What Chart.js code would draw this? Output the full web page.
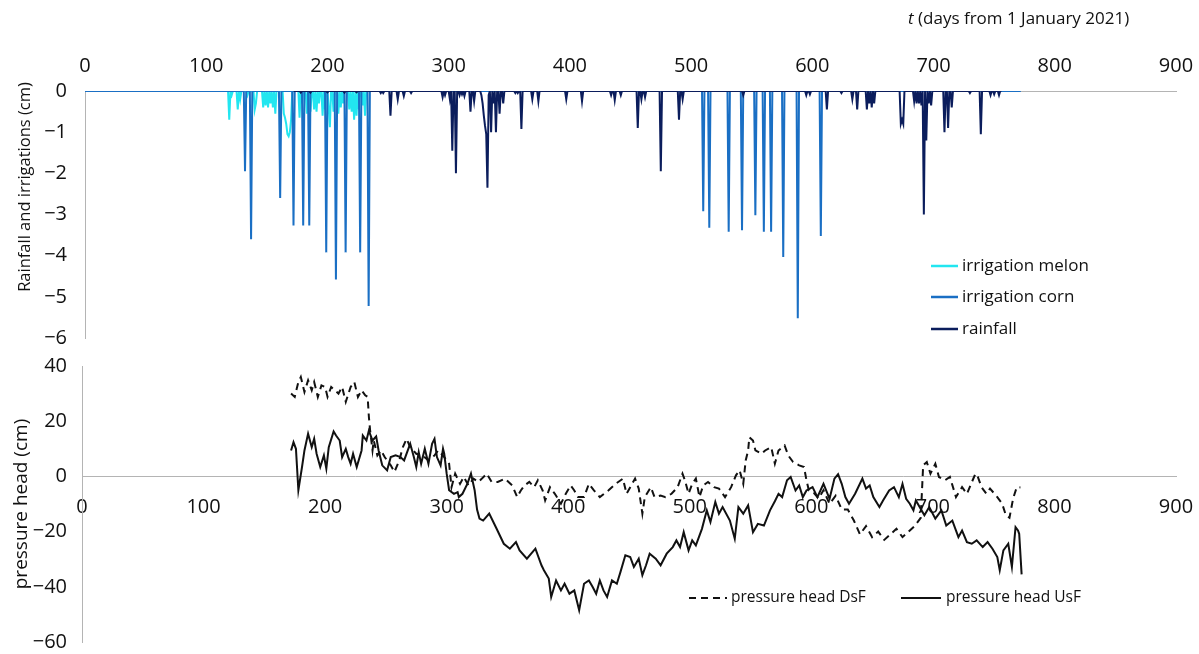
<!DOCTYPE html>
<html>
<head>
<meta charset="utf-8">
<script src="https://cdn.jsdelivr.net/npm/chart.js@4.4.1/dist/chart.umd.min.js"></script>
<style>
  html, body { margin: 0; padding: 0; background: #fff; }
  #wrap { position: relative; width: 1199px; height: 654px; }
  canvas { position: absolute; left: 0; }
  #topChart { top: 0; }
  #bottomChart { top: 350px; }
</style>
</head>
<body>
<div id="wrap">
  <canvas id="topChart" width="1199" height="350"></canvas>
  <canvas id="bottomChart" width="1199" height="304"></canvas>
</div>
<script>
// ===== data =====
// tick values
const dayTicks = [0, 100, 200, 300, 400, 500, 600, 700, 800, 900];
const rainTicks = [0, -1, -2, -3, -4, -5, -6];
const headTicks = [40, 20, 0, -20, -40, -60];

// irrigation melon (cm per day, plotted negative)
const melonDays = [119, 121, 126, 128, 134, 140, 141, 147, 149, 151,
  153, 155, 157, 164, 165, 166, 167, 168, 169, 170,
  177, 179, 183, 186, 189, 191, 193, 196, 198, 201,
  202, 205, 209, 211, 213, 218, 220, 222, 224, 226,
  229, 231];
const melonVals = [-0.7, -0.1, -0.45, -0.2, -0.1, -0.45, -0.3, -0.4, -0.35, -0.4,
  -0.3, -0.4, -0.55, -0.55, -0.65, -0.8, -1.05, -1.1, -1.0, -0.7,
  -0.65, -0.3, -0.55, -0.5, -0.45, -0.5, -0.3, -0.6, -0.45, -0.4,
  -0.88, -0.5, -0.55, -0.4, -0.3, -0.45, -0.5, -0.7, -0.6, -0.45,
  -0.35, -0.6];

// irrigation corn
const cornDays = [132, 137, 161, 172, 180, 185, 199, 207, 215, 227, 234,
  510, 515, 531, 542, 553, 560, 566, 576, 588, 607];
const cornVals = [-1.95, -3.6, -2.6, -3.27, -3.27, -3.27, -3.92, -4.58, -3.92, -3.92, -5.22,
  -2.92, -3.32, -3.42, -3.38, -3.02, -3.42, -3.42, -4.03, -5.52, -3.52];

// rainfall
const rainDays = [178, 186, 200, 214, 224,
  244, 246, 252, 258, 263, 269,
  295, 297, 301, 303, 306, 309, 311, 313,
  318, 321, 327, 328, 329, 330, 331, 332, 333,
  335, 337, 339, 342, 345,
  355, 357, 360, 369, 374,
  397, 410,
  434, 437, 442, 456, 459, 462, 475,
  490, 493, 543,
  595, 598, 612, 624, 633, 637,
  645, 647, 649, 651,
  673, 674, 675,
  684, 686, 688, 690, 692, 694, 696, 698,
  709, 712, 715, 730, 739,
  747, 750, 754];
const rainVals = [-0.04, -0.04, -0.03, -0.04, -0.03,
  -0.05, -0.05, -0.6, -0.2, -0.12, -0.05,
  -0.15, -0.1, -0.2, -1.45, -2.0, -0.1, -0.08, -0.12,
  -0.5, -0.25, -0.1, -0.3, -0.6, -0.85, -1.05, -2.35, -0.1,
  -1.0, -0.3, -1.0, -0.55, -0.3,
  -0.05, -0.05, -0.92, -0.2, -0.25,
  -0.2, -0.25,
  -0.1, -0.22, -0.1, -0.9, -0.2, -0.15, -1.95,
  -0.7, -0.2, -0.1,
  -0.1, -0.08, -0.45, -0.05, -0.2, -0.45,
  -0.45, -0.3, -0.4, -0.3,
  -0.8, -0.7, -0.8,
  -0.25, -0.3, -0.3, -0.35, -3.0, -1.2, -0.3, -0.35,
  -1.0, -0.9, -0.4, -0.05, -1.05,
  -0.1, -0.08, -0.1];

// pressure head UsF (solid)
const usfDays = [172, 174, 176, 178, 181, 183, 186, 189, 191, 193, 196, 199, 201, 203, 207, 209, 212, 214, 217, 219,
  221, 223, 226, 230, 231, 234, 236, 239, 242, 244, 247, 251, 254, 258, 262, 265, 268, 270, 273, 275,
  277, 279, 282, 285, 288, 290, 292, 295, 297, 298, 300, 302, 306, 309, 310, 313, 317, 320, 323, 325,
  327, 330, 335, 341, 347, 352, 357, 360, 366, 373, 378, 380, 384, 386, 390, 394, 397, 401, 405, 409,
  413, 417, 420, 423, 426, 429, 432, 436, 440, 443, 447, 451, 454, 458, 461, 464, 467, 472, 476, 481,
  486, 489, 492, 495, 499, 502, 505, 510, 514, 517, 521, 524, 527, 533, 537, 540, 544, 548, 552, 556,
  561, 566, 570, 573, 576, 580, 583, 587, 590, 593, 596, 601, 605, 610, 615, 619, 622, 625, 628, 631,
  636, 642, 645, 648, 651, 656, 659, 664, 668, 672, 675, 678, 681, 684, 686, 693, 697, 702, 707, 711,
  716, 721, 724, 728, 732, 736, 741, 745, 749, 753, 755, 758, 762, 765, 768, 770, 771, 773];
const usfVals = [9.4, 12.4, 10, -5, 3.4, 9.4, 15.5, 10.6, 13.6, 8.2, 3.4, 7.6, 2.8, 10.6, 16.3, 14.8, 13, 7, 10, 7,
  4.6, 8.2, 3.4, 9.4, 14.8, 13, 16.6, 13, 14.5, 9.4, 4, 2.2, 7, 7.6, 7, 5.8, 9.4, 11.8, 7, 3.4,
  8.8, 4.6, 10, 4.6, 11.8, 13.6, 7, 4, 10, 8.2, 1, -5, -6.3, -5.7, -7.5, -6.3, -2.7, 1, -5, -12,
  -15.3, -16, -13.5, -18.9, -24.4, -26.2, -23.8, -26.8, -29.8, -26.2, -32.2, -34, -37, -43.7, -37.7, -41.3, -38.9, -42.5, -41.3, -48.5,
  -38.9, -37.7, -40, -42.5, -37.7, -41.3, -43.7, -37.7, -38.9, -34.6, -28.6, -29.2, -32.8, -29.8, -35.8, -32.2, -28, -29.8, -32.2, -28,
  -25.6, -23.2, -25.6, -20.2, -26.8, -23.2, -25, -19, -12.3, -16.5, -9.3, -13.5, -11.1, -16, -22.6, -11.1, -13.5, -10.5, -20.2, -17.2,
  -17.8, -12.3, -9, -6.3, -7.5, -1.4, -0.2, -5.1, -3.3, -7.5, -5.1, -3.9, -7.5, -2.7, -8.1, -0.8, 0.8, -2.7, -7.5, -9.9,
  -6.3, -0.8, -4.4, -3.3, -7.5, -11.1, -8.7, -5.1, -3.9, -7.5, -2.7, -8.1, -9.9, -12.3, -8.7, -14.1, -11.1, -15.3, -12.3, -17.8,
  -16, -22, -19.6, -23.8, -24.4, -23.2, -25.6, -23.8, -26.2, -29.2, -34, -26.8, -24.4, -32.8, -18.4, -19.6, -20.8, -35.5];

// pressure head DsF (dashed)
const dsfDays = [172, 175, 178, 180, 183, 186, 189, 191, 194, 197, 200, 202, 205, 208, 211, 214, 217, 221, 224, 227,
  230, 233, 235, 236, 237, 239, 240, 243, 246, 249, 254, 257, 261, 264, 267, 270, 275, 280, 285, 290,
  293, 298, 302, 304, 307, 311, 314, 318, 322, 326, 329, 333, 337, 342, 348, 354, 358, 361, 364, 368,
  372, 375, 379, 381, 385, 389, 394, 398, 402, 405, 408, 413, 417, 421, 426, 433, 439, 445, 448, 455,
  458, 461, 463, 468, 471, 476, 480, 485, 490, 494, 496, 499, 502, 505, 508, 511, 515, 520, 524, 529,
  534, 538, 541, 544, 546, 548, 549, 552, 554, 559, 562, 567, 570, 573, 578, 581, 585, 590, 594, 596,
  598, 602, 606, 610, 615, 620, 625, 630, 635, 640, 645, 650, 655, 660, 665, 670, 675, 680, 685, 690,
  692, 695, 698, 702, 705, 710, 714, 719, 724, 728, 735, 737, 740, 744, 747, 753, 757, 760, 763, 766,
  769, 772];
const dsfVals = [30, 28.8, 34.2, 36, 30.6, 34.8, 31.2, 34.2, 28.8, 33, 32.4, 28.8, 32.4, 31.2, 30, 32.4, 27, 32.4, 34.2, 28.8,
  31.2, 29.4, 28.8, 21.6, 16.8, 9.4, 13, 7.6, 9.4, 7, 4, 1.6, 5.8, 10.6, 13.6, 10.6, 8.2, 7.6, 5.8, 7.6,
  9.4, 7, 4.6, -3.9, 1, -2.7, -0.2, -3.3, -0.8, -2, -0.8, 1, -2, -2, -0.8, -3.3, -7.5, -5.1, -3.3, -2,
  -3.9, -1.4, -5.1, -8.7, -3.9, -6.3, -9.9, -6.3, -3.3, -5.1, -7.5, -7.5, -2.7, -5, -7.5, -5.1, -2.7, -0.8, -6.3, -0.8,
  -4.4, -13.5, -7.5, -3.9, -7.5, -6.9, -7.5, -6.3, -3.9, 1, -1.4, -6.3, -2.7, -0.8, -7.5, -3.3, -2, -3.9, -4.4, -7.5,
  -3.9, 0.4, 2.2, -2.7, 5.8, 9.4, 14.2, 13, 9.4, 8.2, 9.4, 10.6, 4.6, 9.4, 11.2, 7.6, 5.2, 4, 3.4, -1.4,
  -5.1, -6, -8, -5, -10, -7, -12, -12, -16, -21, -18, -22, -20, -23, -21, -19, -22, -20, -18, -15,
  4, 5.2, 1, 4.6, -0.2, -1.4, -0.2, -7.5, -3.9, -6.3, 1, -0.2, -3.9, -6.3, -4.4, -7.5, -9.9, -14, -15, -8,
  -3.9, -4];

// ===== styling =====
Chart.defaults.font.family = "'Open Sans', sans-serif";
Chart.defaults.color = '#111';
const AXIS_GRAY = '#b4b4b4';
const MELON = '#22e6f0';
const CORN = '#1a6fc4';
const RAIN = '#0b1d5c';

// one value per day, 0 on days without an event
function daily(start, end, days, vals) {
  const pts = [];
  for (let d = start; d <= end; d++) {
    const i = days.indexOf(d);
    pts.push({ x: d, y: i >= 0 ? vals[i] : 0 });
  }
  return pts;
}
function pairs(days, vals) {
  return days.map((d, i) => ({ x: d, y: vals[i] }));
}
function minusLabel(v) {
  return v < 0 ? '\u2212' + Math.abs(v) : String(v);
}
function fixedTicks(list) {
  return (scale) => { scale.ticks = list.map(v => ({ value: v })); };
}

// text drawn inside the top panel: axis titles + legend
const topTexts = {
  id: 'topTexts',
  afterDraw(chart) {
    const ctx = chart.ctx;
    ctx.save();
    ctx.fillStyle = '#111';
    ctx.textBaseline = 'middle';
    ctx.textAlign = 'left';

    ctx.font = "italic 17px 'Open Sans'";
    ctx.fillText('t', 908, 19);
    const tw = ctx.measureText('t').width;
    ctx.font = "17px 'Open Sans'";
    ctx.fillText(' (days from 1 January 2021)', 908 + tw, 19);

    // legend
    const rows = [266, 297, 329];
    chart.data.datasets.forEach((ds, i) => {
      ctx.strokeStyle = ds.borderColor;
      ctx.lineWidth = 2.5;
      ctx.beginPath();
      ctx.moveTo(931, rows[i]);
      ctx.lineTo(958, rows[i]);
      ctx.stroke();
      ctx.fillText(ds.label, 962, rows[i]);
    });

    ctx.font = "16.5px 'Open Sans'";
    ctx.translate(25, 187);
    ctx.rotate(-Math.PI / 2);
    ctx.textAlign = 'center';
    ctx.fillText('Rainfall and irrigations (cm)', 0, 0);
    ctx.restore();
  }
};

// legend of the bottom panel
const bottomLegend = {
  id: 'bottomLegend',
  afterDraw(chart) {
    const ctx = chart.ctx;
    const y = 248;
    const spots = [{ x0: 689, x1: 727, tx: 731 }, { x0: 901, x1: 941, tx: 946 }];
    ctx.save();
    ctx.font = "15.5px 'Open Sans'";
    ctx.fillStyle = '#111';
    ctx.textBaseline = 'middle';
    chart.data.datasets.forEach((ds, i) => {
      const s = spots[i];
      ctx.strokeStyle = ds.borderColor;
      ctx.lineWidth = 2;
      ctx.setLineDash(ds.borderDash || []);
      ctx.beginPath();
      ctx.moveTo(s.x0, y);
      ctx.lineTo(s.x1, y);
      ctx.stroke();
      ctx.setLineDash([]);
      ctx.fillText(ds.label, s.tx, y);
    });
    ctx.restore();
  }
};

// ===== top panel: rainfall and irrigations =====
new Chart(document.getElementById('topChart'), {
  type: 'line',
  data: {
    datasets: [
      { label: 'irrigation melon', data: daily(115, 233, melonDays, melonVals), borderColor: MELON, order: 3 },
      { label: 'irrigation corn', data: daily(0, 772, cornDays, cornVals), borderColor: CORN, order: 2 },
      { label: 'rainfall', data: daily(172, 756, rainDays, rainVals), borderColor: RAIN, order: 1 }
    ]
  },
  options: {
    responsive: false,
    animation: false,
    layout: { padding: { left: 0, top: 0, right: 23, bottom: 12 } },
    elements: { point: { radius: 0 }, line: { borderWidth: 2, tension: 0 } },
    plugins: { legend: { display: false }, tooltip: { enabled: false } },
    scales: {
      x: {
        type: 'linear', position: 'top', min: 0, max: 900,
        afterBuildTicks: fixedTicks(dayTicks),
        afterFit: (s) => { s.height = 91; s.paddingLeft = 0; s.paddingRight = 0; },
        grid: { drawOnChartArea: false, drawTicks: false },
        border: { color: AXIS_GRAY, width: 1 },
        ticks: { padding: 13, font: { size: 20 }, maxRotation: 0 }
      },
      y: {
        type: 'linear', min: -6, max: 0,
        afterBuildTicks: fixedTicks(rainTicks),
        afterFit: (s) => { s.width = 85; s.paddingTop = 0; s.paddingBottom = 0; },
        grid: { drawOnChartArea: false, drawTicks: false },
        border: { color: AXIS_GRAY, width: 1 },
        ticks: { padding: 18, font: { size: 20 }, callback: minusLabel }
      }
    }
  },
  plugins: [topTexts]
});

// ===== bottom panel: pressure heads =====
new Chart(document.getElementById('bottomChart'), {
  type: 'line',
  data: {
    datasets: [
      { label: 'pressure head DsF', data: pairs(dsfDays, dsfVals), borderColor: '#111', borderDash: [7, 5], order: 2 },
      { label: 'pressure head UsF', data: pairs(usfDays, usfVals), borderColor: '#111', order: 1 }
    ]
  },
  options: {
    responsive: false,
    animation: false,
    layout: { padding: { left: 0, top: 16, right: 23, bottom: 12 } },
    elements: { point: { radius: 0 }, line: { borderWidth: 2, tension: 0 } },
    plugins: { legend: { display: false }, tooltip: { enabled: false } },
    scales: {
      x: {
        type: 'linear', position: { y: 0 }, min: 0, max: 900,
        afterBuildTicks: fixedTicks(dayTicks),
        afterFit: (s) => { s.paddingLeft = 0; s.paddingRight = 0; },
        grid: { drawOnChartArea: false, drawTicks: false },
        border: { color: AXIS_GRAY, width: 1 },
        ticks: { padding: 19, font: { size: 20 }, maxRotation: 0 }
      },
      y: {
        type: 'linear', min: -60, max: 40,
        afterBuildTicks: fixedTicks(headTicks),
        afterFit: (s) => { s.width = 82; s.paddingTop = 0; s.paddingBottom = 0; },
        grid: { drawOnChartArea: false, drawTicks: false },
        border: { color: AXIS_GRAY, width: 1 },
        ticks: { padding: 15, font: { size: 20 }, callback: minusLabel },
        title: { display: true, text: 'pressure head (cm)', font: { size: 19 }, padding: { top: 10, bottom: 0 } }
      }
    }
  },
  plugins: [bottomLegend]
});
</script>
</body>
</html>
